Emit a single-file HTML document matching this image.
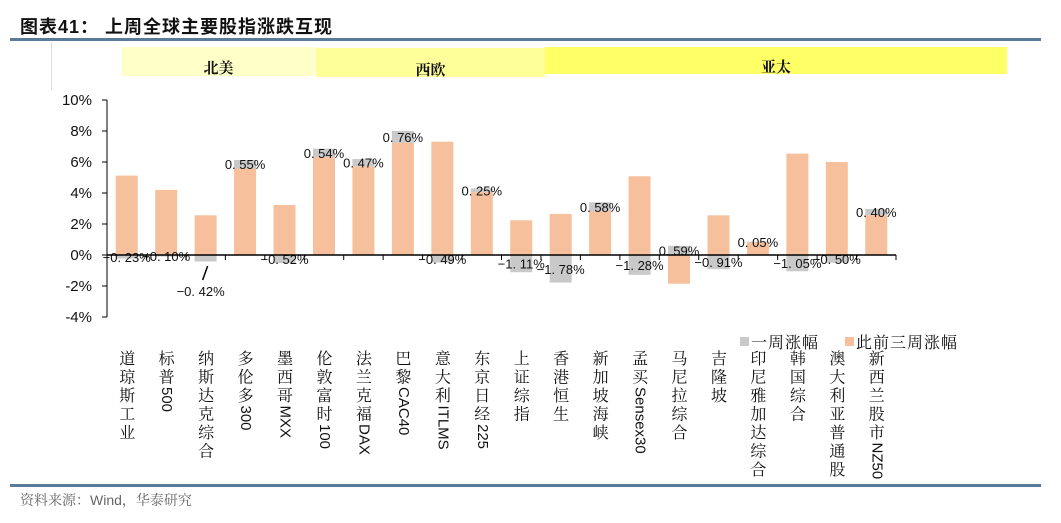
<!DOCTYPE html>
<html><head><meta charset="utf-8">
<style>
body{margin:0;background:#fff;width:1061px;height:523px;overflow:hidden;position:relative;font-family:"Liberation Sans","Noto Sans CJK SC",sans-serif}
.title{position:absolute;left:20px;top:13px;font-size:18px;font-weight:bold;color:#111;font-family:"Liberation Sans","Noto Sans CJK SC",sans-serif;letter-spacing:1px}
.rule{position:absolute;left:10px;width:1031px;height:3px;background:#5b7a99}
.band{position:absolute;font-family:"Noto Serif CJK SC",serif;font-weight:bold;font-size:15px;text-align:center;color:#111}
.foot{position:absolute;left:20px;top:490px;font-size:14px;color:#666;font-family:"Liberation Sans","Noto Serif CJK SC",serif}
.lat{letter-spacing:0;font-family:"Liberation Sans",sans-serif;font-size:15px}
</style></head><body>
<div class="title">图表41：&nbsp;上周全球主要股指涨跌互现</div>
<div class="rule" style="top:38px"></div>
<div style="position:absolute;left:51px;top:42px;width:1px;height:48px;background:#ddd"></div>
<div class="band" style="left:122px;top:47px;width:193px;height:29px;background:#ffffc8;line-height:42px">北美</div>
<div class="band" style="left:316px;top:48px;width:229px;height:29px;background:#ffff99;line-height:44px">西欧</div>
<div class="band" style="left:545px;top:47px;width:462px;height:27px;background:#ffff66;line-height:40px">亚太</div>
<svg id="chart" width="1061" height="523" style="position:absolute;left:0;top:0"></svg>
<div class="rule" style="top:484px"></div>
<div class="foot">资料来源：Wind，华泰研究</div>
<script>
const categories=["道琼斯工业","标普500","纳斯达克综合","多伦多300","墨西哥MXX","伦敦富时100","法兰克福DAX","巴黎CAC40","意大利ITLMS","东京日经225","上证综指","香港恒生","新加坡海峡","孟买Sensex30","马尼拉综合","吉隆坡","印尼雅加达综合","韩国综合","澳大利亚普通股","新西兰股市NZ50"];
const weekly=[-0.23,-0.10,-0.42,0.55,-0.52,0.54,0.47,0.76,-0.49,0.25,-1.11,-1.78,0.58,-1.28,0.59,-0.91,0.05,-1.05,-0.50,0.40];
const prior3=[5.12,4.2,2.56,5.58,3.23,6.32,5.72,7.24,7.31,4.05,2.24,2.65,2.82,5.08,-1.85,2.56,0.81,6.54,6.0,2.57];
const yTicks=[10,8,6,4,2,0,-2,-4];
const NS="http://www.w3.org/2000/svg",svg=document.getElementById('chart');
const x0=107,x1=896,yTop=100,yBot=317,vMax=10,vMin=-4;
const y=v=>yTop+(vMax-v)*(yBot-yTop)/(vMax-vMin);
const step=(x1-x0)/categories.length,bw=22;
const cx=i=>x0+step*(i+0.5);
function mk(t,a,p){const e=document.createElementNS(NS,t);for(const k in a)e.setAttribute(k,a[k]);(p||svg).appendChild(e);return e;}
let ax=mk('line',{x1:x0,y1:yTop,x2:x0,y2:yBot,stroke:'#000','stroke-width':1});

yTicks.forEach(v=>{
 const t=mk('line',{x1:x0-5,y1:y(v),x2:x0,y2:y(v),stroke:'#000'});
 
 const l=mk('text',{x:92,y:y(v)+5,'text-anchor':'end','font-size':15,fill:'#111'});
 l.textContent=(v<0?'-':'')+Math.abs(v)+'%';
 
});
categories.forEach((c,i)=>{
 const p=prior3[i],w=weekly[i];
 let gy0,gy1;
 if(w>=0){const base=p>0?p:0;gy0=base;gy1=base+w;}else{const base=p<0?p:0;gy0=base+w;gy1=base;}
 const g=mk('rect',{x:cx(i)-bw/2,y:y(gy1),width:bw,height:y(gy0)-y(gy1),fill:'#c9c9c9'});
 
 const o=mk('rect',{x:cx(i)-bw/2,y:y(Math.max(p,0)),width:bw,height:Math.abs(y(p)-y(0)),fill:'#f6c09c'});
 
 let ly=(y(gy0)+y(gy1))/2+5,lx=cx(i);
 if(i===2){ly=296;lx=cx(i)-5;
  const ln=mk('line',{x1:cx(i)+2,y1:266,x2:cx(i)-3,y2:280,stroke:'#000','stroke-width':1.5});
  }
 const t=mk('text',{x:lx,y:ly,'text-anchor':'middle','font-size':13,fill:'#111'});
 t.textContent=(w<0?'−':'')+Math.abs(w).toFixed(2).replace('.','. ')+'%';
 
 const fo=mk('foreignObject',{x:cx(i)-12,y:350,width:24,height:134});
 
 const d=document.createElement('div');
 d.style.cssText='writing-mode:vertical-rl;text-orientation:mixed;font-family:"Noto Serif CJK SC",serif;font-size:16px;line-height:24px;color:#111;letter-spacing:2.5px;white-space:nowrap;';
 c.split(/([A-Za-z0-9]+)/).forEach(seg=>{
  if(!seg)return;
  if(/^[A-Za-z0-9]+$/.test(seg)){const s=document.createElement('span');s.className='lat';s.textContent=seg;d.appendChild(s);}
  else d.appendChild(document.createTextNode(seg));
 });
 fo.appendChild(d);
});
const xa=mk('line',{x1:x0,y1:y(0),x2:x1,y2:y(0),stroke:'#000','stroke-width':1.5});

for(let k=0;k<=categories.length;k++){
 const t=mk('line',{x1:x0+step*k,y1:y(0),x2:x0+step*k,y2:y(0)+5,stroke:'#000'});
 
}
const lg=[["一周涨幅",'#c9c9c9',740],["此前三周涨幅",'#f6c09c',845]];
lg.forEach(([n,c,lx])=>{
 const r=mk('rect',{x:lx,y:337,width:9,height:9,fill:c});
 
 const t=mk('text',{x:lx+11,y:348,'font-size':16,fill:'#111','font-family':'"Noto Serif CJK SC",serif','letter-spacing':1});
 t.textContent=n;
});
</script>
</body></html>
